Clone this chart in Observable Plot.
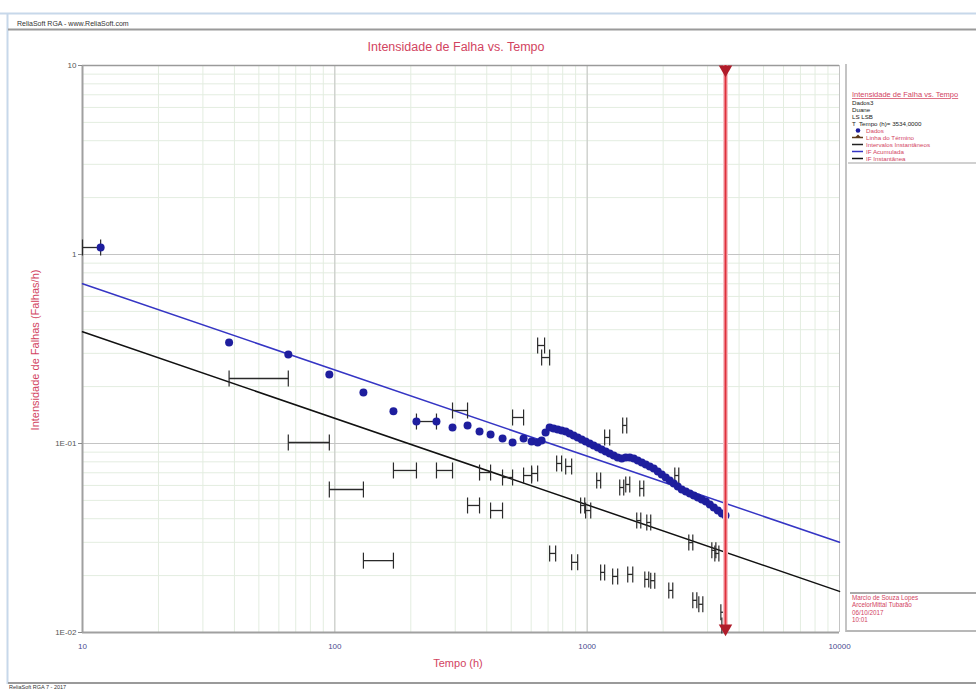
<!DOCTYPE html>
<html><head><meta charset="utf-8">
<script src="https://cdn.jsdelivr.net/npm/d3@7"></script>
<script src="https://cdn.jsdelivr.net/npm/@observablehq/plot@0.6"></script>
<style>body{margin:0;background:#fff;font-family:"Liberation Sans",Arial,sans-serif}</style>
</head><body><div id="chart"></div>
<script>
// Cumulative failure intensity data points (Dados)
const failTimes = [11.8, 38.1, 65.4, 95.1, 129.8, 170.7, 210.6, 252.8, 292.7, 335.7, 374.5, 414.2, 462.0, 506.3, 559.8, 602.4, 636.4, 659.8,
  684, 710, 736, 764, 792, 822, 852, 884, 917, 951, 986, 1023, 1061, 1101, 1141, 1184, 1228, 1274, 1321, 1371, 1422, 1475, 1530, 1586,
  1646, 1707, 1770, 1836, 1905, 1975, 2049, 2125, 2204, 2286, 2371, 2460, 2551, 2646, 2745, 2847, 2953, 3063, 3177, 3295, 3418, 3534];
const cumIntensity = [1.089, 0.342, 0.296, 0.232, 0.186, 0.148, 0.1307, 0.1307, 0.1216, 0.1246, 0.1158, 0.1116, 0.1063, 0.1012, 0.1063, 0.1025, 0.1012, 0.1037,
  0.1143, 0.1216, 0.1201, 0.1186, 0.1172, 0.1158, 0.1129, 0.1102, 0.1076, 0.1050, 0.1025, 0.1000, 0.0976, 0.0953, 0.0930, 0.0907, 0.0886, 0.0864,
  0.0843, 0.0833, 0.0843, 0.0843, 0.0833, 0.0813, 0.0794, 0.0774, 0.0756, 0.0737, 0.0711, 0.0685, 0.0661, 0.0637, 0.0614, 0.0592, 0.0571, 0.0557,
  0.0544, 0.0531, 0.0518, 0.0505, 0.0493, 0.0475, 0.0458, 0.0442, 0.0426, 0.0416];

// Instantaneous intervals (Intervalos Instantâneos)
const intStart = [10, 38.1, 65.4, 95.1, 129.8, 170.7, 210.6, 252.8, 292.7, 335.7, 374.5, 414.2, 462.0, 506.3, 559.8, 602.4, 636.4, 660,
  710, 757, 822, 868, 942, 986, 1091, 1131, 1173, 1262, 1346, 1383, 1422, 1448, 1572, 1616, 1692, 1723, 1786, 2106, 2225, 2528, 2622, 2770,
  3119, 3206, 3387, 3418];
const intEnd = [11.8, 65.4, 95.1, 129.8, 170.7, 210.6, 252.8, 292.7, 335.7, 374.5, 414.2, 462.0, 506.3, 559.8, 602.4, 636.4, 678, 710,
  750, 792, 868, 917, 978, 1033, 1131, 1173, 1228, 1321, 1396, 1435, 1475, 1516, 1631, 1676, 1754, 1786, 1853, 2184, 2307, 2622, 2720, 2873,
  3236, 3326, 3513, 3534];
const intValue = [1.089, 0.2208, 0.1012, 0.0571, 0.0240, 0.0720, 0.1307, 0.0720, 0.1495, 0.0470, 0.0702, 0.0442, 0.0661, 0.1373, 0.0677, 0.0694, 0.330, 0.285,
  0.0262, 0.0784, 0.0756, 0.0235, 0.0470, 0.0442, 0.0637, 0.0208, 0.1076, 0.0198, 0.0585, 0.1246, 0.0607, 0.0203, 0.0391, 0.0578, 0.0191, 0.0382,
  0.0188, 0.0167, 0.0677, 0.0299, 0.0148, 0.0141, 0.0272, 0.0262, 0.0128, 0.0109];

// Fitted lines
const accLineT = [10, 10000], accLineV = [0.70, 0.030];   // IF Acumulada
const instLineT = [10, 10000], instLineV = [0.39, 0.0165]; // IF Instantânea
const endTime = 3534; // Linha do Término

const xTickValues = [10, 100, 1000, 10000];
const xTickLabels = ["10", "100", "1000", "10000"];
const yTickValues = [0.01, 0.1, 1, 10];
const yTickLabels = ["1E-02", "1E-01", "1", "10"];
const majorX = [100, 1000, 10000];
const majorY = [0.1, 1];

const legendInfo = ["Dados3", "Duane", "LS LSB", "T  Tempo (h)= 3534,0000"];
const legendItems = ["Dados", "Linha do Término", "Intervalos Instantâneos", "IF Acumulada", "IF Instantânea"];
const authorLines = ["Marcio de Souza Lopes", "ArcelorMittal Tubarão", "06/10/2017", "10:01"];

const dots = failTimes.map((t, i) => ({t, v: cumIntensity[i]}));
const intervals = intStart.map((s, i) => ({s, e: intEnd[i], v: intValue[i]}));
const accLine = accLineT.map((t, i) => ({t, v: accLineV[i]}));
const instLine = instLineT.map((t, i) => ({t, v: instLineV[i]}));

const vbar = {draw(ctx) { ctx.moveTo(0, -8); ctx.lineTo(0, 8); }};
const RED = "#d2445f";

const plot = Plot.plot({
  width: 976, height: 690,
  marginLeft: 82, marginRight: 137, marginTop: 65, marginBottom: 58,
  style: {fontFamily: "Liberation Sans, Arial, sans-serif", background: "transparent"},
  x: {type: "log", domain: [10, 10000], label: null},
  y: {type: "log", domain: [0.01, 10], label: null},
  marks: [
    Plot.gridX({ticks: 40, stroke: "#e3ede0", strokeOpacity: 1}),
    Plot.gridY({ticks: 40, stroke: "#e3ede0", strokeOpacity: 1}),
    Plot.gridX(majorX, {stroke: "#c4c4c4", strokeOpacity: 1}),
    Plot.gridY(majorY, {stroke: "#c4c4c4", strokeOpacity: 1}),
    Plot.ruleY([10], {stroke: "#9a9a9a", strokeWidth: 1.5}),
    Plot.ruleX([10], {stroke: "#a0a0a0", strokeWidth: 2}),
    Plot.ruleY([0.01], {stroke: "#a0a0a0", strokeWidth: 2}),
    Plot.axisY(yTickValues, {tickFormat: d => yTickLabels[yTickValues.indexOf(d)], tickSize: 4, tickPadding: 2, fontSize: 8, fill: "#555", stroke: "#888", label: null}),
    Plot.axisX(xTickValues, {tickFormat: d => xTickLabels[xTickValues.indexOf(d)], tickSize: 0, tickPadding: 11, fontSize: 8, fill: "#4a4a90", label: null}),
    Plot.line(accLine, {x: "t", y: "v", stroke: "#3535c4", strokeWidth: 1.5}),
    Plot.line(instLine, {x: "t", y: "v", stroke: "#111", strokeWidth: 1.5}),
    Plot.link(intervals, {x1: "s", x2: "e", y1: "v", y2: "v", stroke: "#2a2a2a", strokeWidth: 1.3}),
    Plot.dot(intervals, {x: "s", y: "v", symbol: vbar, stroke: "#2a2a2a", fill: "none", strokeWidth: 1.2}),
    Plot.dot(intervals, {x: "e", y: "v", symbol: vbar, stroke: "#2a2a2a", fill: "none", strokeWidth: 1.2}),
    Plot.dot(dots, {x: "t", y: "v", r: 4, fill: "#1e1e9e", stroke: "none"}),
    Plot.ruleX([endTime], {stroke: "#f6c2c6", strokeWidth: 5}),
    Plot.ruleX([endTime], {stroke: "#e0303c", strokeWidth: 2}),
    Plot.dot([endTime], {x: d => d, frameAnchor: "top", dy: 4, symbol: "triangle", rotate: 180, r: 5, fill: "#b01c2a", stroke: "none"}),
    Plot.dot([endTime], {x: d => d, frameAnchor: "bottom", dy: -4, symbol: "triangle", rotate: 180, r: 5, fill: "#b01c2a", stroke: "none"})
  ]
});

const svg = d3.select(plot);
const deco = svg.append("g").attr("font-family", "Liberation Sans, Arial, sans-serif").attr("text-anchor", "start");
// window frame
deco.append("line").attr("x1", 0).attr("x2", 976).attr("y1", 13.5).attr("y2", 13.5).attr("stroke", "#c7d8ea").attr("stroke-width", 2);
deco.append("line").attr("x1", 7.5).attr("x2", 7.5).attr("y1", 13).attr("y2", 684).attr("stroke", "#c7d8ea").attr("stroke-width", 2);
deco.append("text").attr("x", 17).attr("y", 26).attr("text-anchor", "start").attr("font-size", 7).attr("fill", "#333").text("ReliaSoft RGA - www.ReliaSoft.com");
deco.append("line").attr("x1", 8).attr("x2", 976).attr("y1", 29.5).attr("y2", 29.5).attr("stroke", "#9a9a9a").attr("stroke-width", 2);
deco.append("line").attr("x1", 8).attr("x2", 976).attr("y1", 683).attr("y2", 683).attr("stroke", "#9a9a9a").attr("stroke-width", 2);
deco.append("text").attr("x", 9).attr("y", 689).attr("text-anchor", "start").attr("font-size", 5.5).attr("fill", "#333").text("ReliaSoft RGA 7 - 2017");
// title and axis labels
deco.append("text").attr("x", 456).attr("y", 51).attr("text-anchor", "middle").attr("font-size", 12.5).attr("fill", RED).text("Intensidade de Falha vs. Tempo");
deco.append("text").attr("transform", "translate(39,350) rotate(-90)").attr("text-anchor", "middle").attr("font-size", 11).attr("fill", RED).text("Intensidade de Falhas (Falhas/h)");
deco.append("text").attr("x", 458).attr("y", 667).attr("text-anchor", "middle").attr("font-size", 11).attr("fill", RED).text("Tempo (h)");
// legend panel
deco.append("line").attr("x1", 846).attr("x2", 846).attr("y1", 64).attr("y2", 632).attr("stroke", "#b0b0b0").attr("stroke-width", 1.5);
deco.append("text").attr("x", 852).attr("y", 97).attr("text-anchor", "start").attr("font-size", 7.5).attr("fill", RED).attr("text-decoration", "underline").text("Intensidade de Falha vs. Tempo");
legendInfo.forEach((s, i) => deco.append("text").attr("x", 852).attr("y", 104.5 + i * 7).attr("text-anchor", "start").attr("font-size", 6.2).attr("fill", "#222").text(s));
const ly = i => 130.5 + i * 7;
legendItems.forEach((s, i) => deco.append("text").attr("x", 866).attr("y", ly(i) + 2.2).attr("text-anchor", "start").attr("font-size", 6.2).attr("fill", RED).text(s));
deco.append("circle").attr("cx", 858).attr("cy", ly(0)).attr("r", 2.3).attr("fill", "#1e1e9e");
deco.append("line").attr("x1", 852).attr("x2", 863).attr("y1", ly(1)).attr("y2", ly(1)).attr("stroke", "#5a3a1a").attr("stroke-width", 1.5);
deco.append("path").attr("d", `M855,${ly(1)} L858,${ly(1) - 3} L861,${ly(1)} Z`).attr("fill", "#5a3a1a");
deco.append("line").attr("x1", 852).attr("x2", 863).attr("y1", ly(2)).attr("y2", ly(2)).attr("stroke", "#222").attr("stroke-width", 1.5);
deco.append("line").attr("x1", 852).attr("x2", 863).attr("y1", ly(3)).attr("y2", ly(3)).attr("stroke", "#3535c4").attr("stroke-width", 1.5);
deco.append("line").attr("x1", 852).attr("x2", 863).attr("y1", ly(4)).attr("y2", ly(4)).attr("stroke", "#111").attr("stroke-width", 1.5);
deco.append("line").attr("x1", 848).attr("x2", 976).attr("y1", 163).attr("y2", 163).attr("stroke", "#c0c0c0").attr("stroke-width", 1.5);
// author block
deco.append("line").attr("x1", 850).attr("x2", 976).attr("y1", 593).attr("y2", 593).attr("stroke", "#555").attr("stroke-width", 1.2);
authorLines.forEach((s, i) => deco.append("text").attr("x", 852).attr("y", 600 + i * 7.3).attr("text-anchor", "start").attr("font-size", 6.3).attr("fill", RED).text(s));
deco.append("line").attr("x1", 846).attr("x2", 976).attr("y1", 631).attr("y2", 631).attr("stroke", "#b8b8b8").attr("stroke-width", 2);

document.getElementById("chart").append(plot);
</script>
</body></html>
